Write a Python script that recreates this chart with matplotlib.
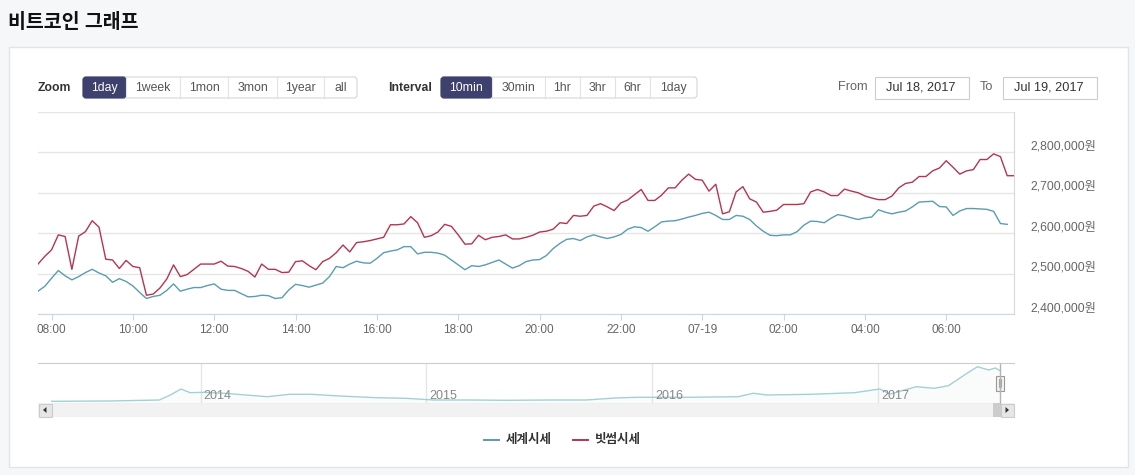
import matplotlib
matplotlib.use('Agg')
import matplotlib.pyplot as plt
import matplotlib.dates as mdates
from matplotlib.patches import Rectangle, FancyBboxPatch, Polygon
import numpy as np
import pandas as pd

plt.rcParams['font.family'] = ['Liberation Sans', 'Noto Sans CJK KR', 'DejaVu Sans']

W, H = 1135, 475

# 세계시세 / 빗썸시세, 10분 간격 (단위: 천원)
world_k = [2457, 2469, 2489, 2508, 2495, 2485, 2493, 2503, 2511, 2502,
           2495, 2479, 2488, 2481, 2470, 2454, 2439, 2444, 2447, 2459,
           2475, 2457, 2462, 2466, 2466, 2471, 2475, 2462, 2459, 2459,
           2451, 2443, 2444, 2447, 2446, 2439, 2441, 2460, 2474, 2471,
           2467, 2472, 2477, 2493, 2518, 2515, 2524, 2531, 2527, 2526,
           2538, 2552, 2556, 2559, 2567, 2567, 2549, 2553, 2553, 2551,
           2546, 2534, 2522, 2510, 2520, 2518, 2522, 2528, 2534, 2524,
           2514, 2520, 2530, 2534, 2535, 2545, 2562, 2575, 2585, 2587,
           2582, 2591, 2596, 2591, 2587, 2591, 2597, 2610, 2616, 2614,
           2605, 2616, 2628, 2630, 2631, 2635, 2640, 2644, 2649, 2652,
           2644, 2634, 2634, 2644, 2642, 2634, 2618, 2605, 2595, 2594,
           2596, 2596, 2604, 2620, 2630, 2629, 2626, 2637, 2646, 2643,
           2638, 2634, 2638, 2640, 2658, 2652, 2648, 2652, 2655, 2665,
           2677, 2678, 2679, 2666, 2665, 2644, 2655, 2661, 2661, 2660,
           2659, 2654, 2624, 2622]
bithumb_k = [2524, 2543, 2559, 2596, 2592, 2511, 2593, 2604, 2631, 2615,
             2536, 2534, 2513, 2533, 2518, 2515, 2447, 2450, 2465, 2487,
             2522, 2493, 2498, 2511, 2524, 2524, 2524, 2531, 2519, 2518,
             2513, 2506, 2492, 2524, 2511, 2511, 2503, 2504, 2530, 2532,
             2520, 2510, 2530, 2538, 2552, 2571, 2554, 2577, 2579, 2582,
             2586, 2590, 2621, 2621, 2623, 2641, 2626, 2590, 2594, 2603,
             2622, 2617, 2596, 2573, 2574, 2595, 2584, 2590, 2592, 2596,
             2586, 2586, 2590, 2595, 2603, 2605, 2610, 2626, 2624, 2644,
             2642, 2644, 2667, 2673, 2665, 2656, 2675, 2682, 2695, 2708,
             2681, 2681, 2694, 2712, 2712, 2731, 2746, 2733, 2731, 2704,
             2721, 2648, 2653, 2702, 2715, 2685, 2677, 2652, 2654, 2657,
             2671, 2671, 2671, 2673, 2702, 2708, 2702, 2693, 2693, 2709,
             2704, 2700, 2692, 2687, 2683, 2683, 2692, 2712, 2723, 2726,
             2740, 2740, 2754, 2761, 2779, 2763, 2746, 2754, 2757, 2782,
             2782, 2796, 2789, 2742, 2742]

# 네비게이터 (전체 기간 세계시세, 천원)
nav_dates = ['2013-05-05', '2013-08-05', '2013-10-26', '2013-11-13', '2013-11-30',
             '2013-12-15', '2014-01-05', '2014-02-08', '2014-03-15', '2014-04-19',
             '2014-05-24', '2014-06-29', '2014-08-14', '2014-10-12', '2014-11-28',
             '2015-01-14', '2015-03-13', '2015-05-11', '2015-07-20', '2015-09-17',
             '2015-11-03', '2015-12-08', '2016-02-28', '2016-05-20', '2016-06-13',
             '2016-07-06', '2016-09-14', '2016-11-24', '2017-01-04', '2017-01-21',
             '2017-03-04', '2017-04-02', '2017-04-25', '2017-05-25', '2017-06-11',
             '2017-06-29', '2017-07-10', '2017-07-18']
nav_k = [91, 114, 190, 570, 1026, 745, 775, 700, 570, 441,
         623, 623, 494, 365, 319, 190, 190, 167, 190, 190,
         342, 395, 395, 441, 700, 570, 623, 745, 1026, 646,
         1200, 1079, 1277, 2219, 2720, 2470, 2622, 2400]

zoom_buttons = ['1day', '1week', '1mon', '3mon', '1year', 'all']
interval_buttons = ['10min', '30min', '1hr', '3hr', '6hr', '1day']
date_from = 'Jul 18, 2017'
date_to = 'Jul 19, 2017'
series_names = ['세계시세', '빗썸시세']
year_labels = ['2014', '2015', '2016', '2017']

times = pd.date_range('2017-07-18 07:40', periods=len(bithumb_k), freq='10min')
world = np.array(world_k) * 1000
bithumb = np.array(bithumb_k) * 1000

BLUE = '#5a9cb2'
RED = '#b7344f'
NAVY = '#3e406d'
NAV_LINE = '#a3d1d1'

fig = plt.figure(figsize=(W / 100, H / 100), dpi=100)
fig.patch.set_facecolor('#f6f7f9')
bg = fig.add_axes([0, 0, 1, 1])
bg.set_xlim(0, W)
bg.set_ylim(H, 0)
bg.axis('off')


def px_axes(x0, y0, x1, y1):
    return fig.add_axes([x0 / W, 1 - y1 / H, (x1 - x0) / W, (y1 - y0) / H])


# 카드, 제목
bg.add_patch(Rectangle((8.5, 46.5), 1119, 420, fc='white', ec='#e2e4e8', lw=1))
bg.text(8, 23, '비트코인 그래프', fontsize=14, fontweight='bold', va='center', color='#111111')


def button_group(edges, labels, y0, y1, selected=0):
    bg.add_patch(FancyBboxPatch((edges[0], y0), edges[-1] - edges[0], y1 - y0,
                                boxstyle='round,pad=0,rounding_size=3',
                                fc='white', ec='#d6d6d6', lw=0.8))
    for i, lab in enumerate(labels):
        a, b = edges[i], edges[i + 1]
        if i == selected:
            bg.add_patch(FancyBboxPatch((a, y0), b - a, y1 - y0,
                                        boxstyle='round,pad=0,rounding_size=3',
                                        fc=NAVY, ec=NAVY, lw=0.8))
        elif i > 0:
            bg.plot([a, a], [y0, y1], color='#e2e2e2', lw=0.8)
        bg.text((a + b) / 2, (y0 + y1) / 2 + 0.5, lab, ha='center', va='center',
                fontsize=8.8, color='white' if i == selected else '#555555')


bg.text(38, 88, 'Zoom', fontsize=8.8, fontweight='bold', va='center', color='#333333')
button_group([83, 126, 180, 228, 277, 324, 357], zoom_buttons, 77, 98)
bg.text(388, 88, 'Interval', fontsize=8.8, fontweight='bold', va='center', color='#333333')
button_group([441, 492, 545, 580, 615, 650, 697], interval_buttons, 77, 98)

bg.text(838, 87, 'From', fontsize=9.2, va='center', color='#666666')
bg.add_patch(Rectangle((874.5, 76.5), 94, 22, fc='white', ec='#cccccc', lw=0.8))
bg.text(921, 87.5, date_from, fontsize=9.2, ha='center', va='center', color='#333333')
bg.text(980, 87, 'To', fontsize=9.2, va='center', color='#666666')
bg.add_patch(Rectangle((1002.5, 76.5), 94, 22, fc='white', ec='#cccccc', lw=0.8))
bg.text(1049, 87.5, date_to, fontsize=9.2, ha='center', va='center', color='#333333')

# 메인 차트
ax = px_axes(38, 111.7, 1014, 314.3)
ax.plot(times[:len(world)], world, color=BLUE, lw=1.0)
ax.plot(times, bithumb, color=RED, lw=1.0)
ax.set_xlim(times[0], times[-1])
ax.set_ylim(2400000, 2900000)
yt = np.arange(2400000, 2900001, 100000)
ax.set_yticks(yt)
ax.set_yticklabels([f'{v:,}원' if v < 2900000 else '' for v in yt])
ax.yaxis.tick_right()
ax.tick_params(axis='y', length=0, pad=11.5, labelsize=8.8, labelcolor='#666666')
for lbl in ax.get_yticklabels():
    lbl.set_va('bottom')
xt = pd.date_range('2017-07-18 08:00', '2017-07-19 06:00', freq='2h')
ax.set_xticks(xt)
ax.set_xticklabels(['07-19' if t.hour == 0 else t.strftime('%H:%M') for t in xt])
ax.tick_params(axis='x', length=4, color='#ccd6eb', labelcolor='#666666', labelsize=8.5, pad=3)
ax.grid(axis='y', color='#e6e6e6', lw=1)
ax.set_axisbelow(True)
for s in ['left', 'top']:
    ax.spines[s].set_visible(False)
ax.spines['bottom'].set_color('#ccd6eb')
ax.spines['right'].set_color('#d8d8d8')

# 네비게이터
nav = px_axes(38, 363, 1014, 403)
nd = pd.to_datetime(nav_dates)
nv = np.array(nav_k) * 1000
nav.plot(nd, nv, color=NAV_LINE, lw=1.0)
nav.fill_between(nd, nv, -100000, color=NAV_LINE, alpha=0.05, lw=0)
d14 = mdates.date2num(pd.Timestamp('2014-01-01'))
d17 = mdates.date2num(pd.Timestamp('2017-01-01'))
ppd = (878 - 200.7) / (d17 - d14)
nav.set_xlim(d14 - (200.7 - 38) / ppd, d17 + (1014 - 878) / ppd)
nav.set_ylim(-38000, 3002000)
years = pd.to_datetime([y + '-01-01' for y in year_labels])
nav.set_xticks(years)
nav.set_xticklabels([])
nav.set_yticks([])
nav.tick_params(axis='x', length=0)
nav.grid(axis='x', color='#e6e6e6', lw=1)
nav.set_axisbelow(True)
for y, lab in zip(years, year_labels):
    nav.text(mdates.date2num(y) + 3 / ppd, 0.18, lab, transform=nav.get_xaxis_transform(),
             fontsize=9, color='#888888', va='center', ha='left')
for s in ['left', 'right', 'bottom']:
    nav.spines[s].set_visible(False)
nav.spines['top'].set_color('#cccccc')
nav.patch.set_alpha(0)
nav.plot([999.5, 999.5], [363, 403], color='#b3b3b3', lw=1, transform=bg.transData, clip_on=False)
nav.add_patch(Rectangle((995.5, 375.5), 8, 15, fc='#f2f2f2', ec='#999999', lw=0.8,
                        transform=bg.transData, clip_on=False))
nav.plot([998.5, 998.5], [379, 387], color='#999999', lw=0.6, transform=bg.transData, clip_on=False)
nav.plot([1000.5, 1000.5], [379, 387], color='#999999', lw=0.6, transform=bg.transData, clip_on=False)

# 스크롤바
bg.add_patch(Rectangle((38, 403), 976, 14, fc='#f2f2f2', ec='none'))
bg.add_patch(Rectangle((38.5, 403.5), 13, 13, fc='#e6e6e6', ec='#cccccc', lw=0.8))
bg.add_patch(Polygon([(46.5, 407), (46.5, 413), (43, 410)], closed=True, fc='#333333', ec='none'))
bg.add_patch(Rectangle((993, 403), 8, 14, fc='#cccccc', ec='none'))
bg.add_patch(Rectangle((1000.5, 403.5), 13, 13, fc='#e6e6e6', ec='#cccccc', lw=0.8))
bg.add_patch(Polygon([(1005.5, 407), (1005.5, 413), (1009, 410)], closed=True, fc='#333333', ec='none'))

# 범례
bg.plot([484, 499], [440, 440], color=BLUE, lw=1.4)
bg.text(506, 440, series_names[0], fontsize=9, fontweight='bold', va='center', color='#333333')
bg.plot([573, 588], [440, 440], color=RED, lw=1.4)
bg.text(595, 440, series_names[1], fontsize=9, fontweight='bold', va='center', color='#333333')

fig.savefig('out.png', dpi=100, facecolor=fig.get_facecolor())
